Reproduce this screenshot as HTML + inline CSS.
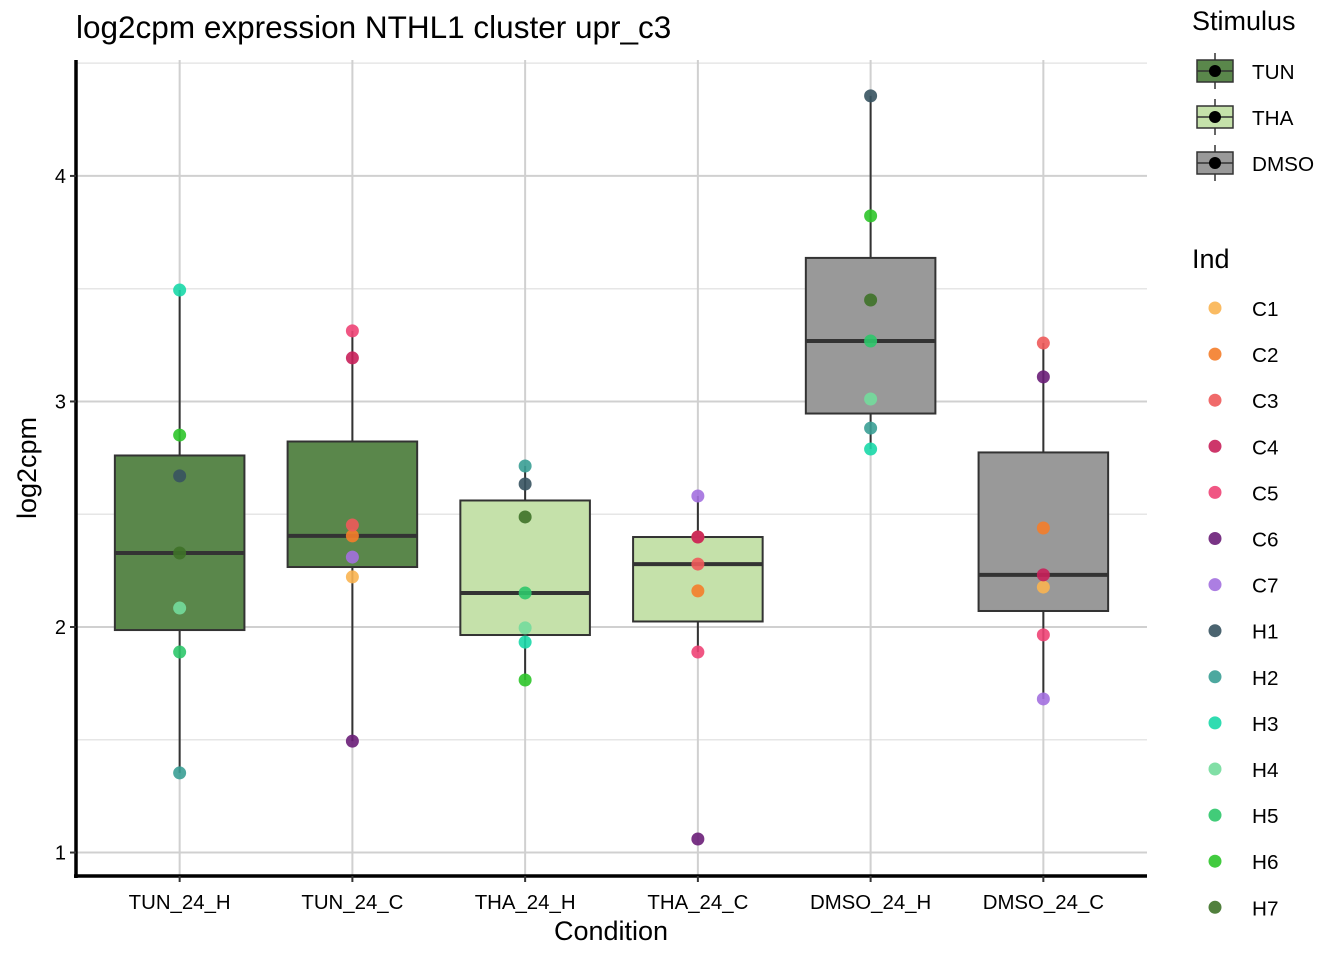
<!DOCTYPE html>
<html><head><meta charset="utf-8"><style>
body{margin:0;background:#fff;}
svg{display:block;font-family:"Liberation Sans",sans-serif;}
</style></head><body>
<svg id="chart" width="1344" height="960" viewBox="0 0 1344 960" xmlns="http://www.w3.org/2000/svg">
<g id="grid"></g><g id="boxes"></g><g id="points"></g><g id="axes"></g><g id="legend"></g>
</svg>
<script>
const categories = ["TUN_24_H","TUN_24_C","THA_24_H","THA_24_C","DMSO_24_H","DMSO_24_C"];
const stimulus = ["TUN","TUN","THA","THA","DMSO","DMSO"];
const yTicks = [1,2,3,4];
const indNames = ["C1","C2","C3","C4","C5","C6","C7","H1","H2","H3","H4","H5","H6","H7"];
const indColors = ["#F9B451","#F47D2A","#EE5A5A","#C8205A","#EE4475","#6A1E78","#A370DF","#375360","#3A9E95","#1AD8A8","#73DB9C","#2DC76A","#2EC52A","#3E7228"];
const stimNames = ["TUN","THA","DMSO"];
const stimColors = ["#5A874B","#C5E1AA","#999999"];
const ptsTUN_H = [["H1",2.670],["H2",1.353],["H3",3.494],["H4",2.084],["H5",1.889],["H6",2.851],["H7",2.328]];
const ptsTUN_C = [["C1",2.222],["C2",2.404],["C3",2.452],["C4",3.193],["C5",3.313],["C6",1.494],["C7",2.310]];
const ptsTHA_H = [["H1",2.634],["H2",2.714],["H3",1.933],["H4",1.996],["H5",2.151],["H6",1.765],["H7",2.488]];
const ptsTHA_C = [["C1",2.399],["C2",2.160],["C3",2.279],["C4",2.399],["C5",1.889],["C6",1.060],["C7",2.581]];
const ptsDMSO_H = [["H1",4.355],["H2",2.882],["H3",2.789],["H4",3.011],["H5",3.268],["H6",3.823],["H7",3.450]];
const ptsDMSO_C = [["C1",2.177],["C2",2.439],["C3",3.259],["C4",2.231],["C5",1.965],["C6",3.109],["C7",1.681]];
const allPts = [ptsTUN_H,ptsTUN_C,ptsTHA_H,ptsTHA_C,ptsDMSO_H,ptsDMSO_C];

const NS="http://www.w3.org/2000/svg";
const L=76,R=1147,T=60,B=876;
const yMin=0.896,yMax=4.514;
function y(v){return B-(v-yMin)/(yMax-yMin)*(B-T);}
const step=(R-L)/(categories.length+0.2);
function x(i){return L+step*(i+0.6);}
function mk(tag,attrs,parent){const e=document.createElementNS(NS,tag);for(const k in attrs)e.setAttribute(k,attrs[k]);parent.appendChild(e);return e;}
function q(s,p){const h=(s.length-1)*p,lo=Math.floor(h),hi=Math.ceil(h);return s[lo]+(s[hi]-s[lo])*(h-lo);}
const grid=document.getElementById('grid'),boxes=document.getElementById('boxes'),points=document.getElementById('points'),axes=document.getElementById('axes'),legend=document.getElementById('legend');

for(let i=0;i<yTicks.length;i++){const v=yTicks[i]+0.5;if(v<yMax){const l=mk('line',{x1:L,x2:R,y1:y(v),y2:y(v),stroke:'#e6e6e6','stroke-width':1.5},grid);

}}
yTicks.forEach(v=>{const l=mk('line',{x1:L,x2:R,y1:y(v),y2:y(v),stroke:'#d0d0d0','stroke-width':2},grid);

});
categories.forEach((c,i)=>{const l=mk('line',{x1:x(i),x2:x(i),y1:T,y2:B,stroke:'#d0d0d0','stroke-width':2},grid);

});

const bw=step*0.75;
categories.forEach((c,i)=>{
 const s=allPts[i].map(p=>p[1]).sort((a,b)=>a-b);
 const q1=q(s,0.25),md=q(s,0.5),q3=q(s,0.75),iqr=q3-q1;
 const lo=Math.min(...s.filter(v=>v>=q1-1.5*iqr)),hi=Math.max(...s.filter(v=>v<=q3+1.5*iqr));
 const g=mk('g',{},boxes);
 
 
 mk('line',{x1:x(i),x2:x(i),y1:y(hi),y2:y(q3),stroke:'#333','stroke-width':2},g);
 mk('line',{x1:x(i),x2:x(i),y1:y(q1),y2:y(lo),stroke:'#333','stroke-width':2},g);
 const col=stimColors[stimNames.indexOf(stimulus[i])];
 mk('rect',{x:x(i)-bw/2,y:y(q3),width:bw,height:y(q1)-y(q3),fill:col,stroke:'#333','stroke-width':2},g);
 mk('line',{x1:x(i)-bw/2,x2:x(i)+bw/2,y1:y(md),y2:y(md),stroke:'#333','stroke-width':4},g);
});
allPts.forEach((arr,i)=>{arr.forEach(p=>{
 const c=mk('circle',{cx:x(i),cy:y(p[1]),r:6.5,fill:indColors[indNames.indexOf(p[0])],'fill-opacity':0.9},points);
 
 
});});
let a=mk('line',{x1:L,x2:L,y1:T,y2:B+2,stroke:'#000','stroke-width':3.5},axes);


a=mk('line',{x1:L-2,x2:R,y1:B,y2:B,stroke:'#000','stroke-width':3.5},axes);


yTicks.forEach(v=>{mk('line',{x1:L-6,x2:L,y1:y(v),y2:y(v),stroke:'#333','stroke-width':2},axes);
 const t=mk('text',{x:L-10,y:y(v)+7,'text-anchor':'end','font-size':20,fill:'#000'},axes);t.textContent=v;
 
 });
categories.forEach((c,i)=>{mk('line',{x1:x(i),x2:x(i),y1:B,y2:B+6,stroke:'#333','stroke-width':2},axes);
 const t=mk('text',{x:x(i),y:B+33,'text-anchor':'middle','font-size':20.4,fill:'#000'},axes);t.textContent=c;
 
 });
stimNames.forEach((n,i)=>{const cy=71+46*i;const g=mk('g',{},legend);
 
 
 mk('line',{x1:1215,x2:1215,y1:cy-18,y2:cy+18,stroke:'#333','stroke-width':1.5},g);
 mk('rect',{x:1197,y:cy-11,width:36,height:22,fill:stimColors[i],stroke:'#333','stroke-width':1.5},g);
 mk('line',{x1:1197,x2:1233,y1:cy,y2:cy,stroke:'#333','stroke-width':1.5},g);
 mk('circle',{cx:1215,cy:cy,r:6,fill:'#000'},g);
 const t=mk('text',{x:1252,y:cy+8,'font-size':20.7,fill:'#000'},g);t.textContent=n;});
indNames.forEach((n,i)=>{const cy=308+46.1*i;const g=mk('g',{},legend);
 
 
 mk('circle',{cx:1215,cy:cy,r:6.5,fill:indColors[i],'fill-opacity':0.9},g);
 const t=mk('text',{x:1252,y:cy+8,'font-size':20.7,fill:'#000'},g);t.textContent=n;});
</script>
<svg style="position:absolute;left:0;top:0" width="1344" height="960" xmlns="http://www.w3.org/2000/svg">
<text x="76" y="38" font-size="31.5" font-family="Liberation Sans, sans-serif">log2cpm expression NTHL1 cluster upr_c3</text>
<text x="611" y="940" font-size="27" text-anchor="middle" font-family="Liberation Sans, sans-serif">Condition</text>
<text transform="translate(36,468) rotate(-90)" font-size="27" text-anchor="middle" font-family="Liberation Sans, sans-serif">log2cpm</text>
<text x="1192" y="30" font-size="27" font-family="Liberation Sans, sans-serif">Stimulus</text>
<text x="1192" y="268" font-size="27" font-family="Liberation Sans, sans-serif">Ind</text>
</svg>
</body></html>
